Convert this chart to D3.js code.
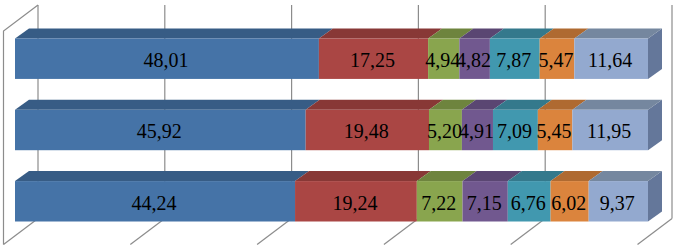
<!DOCTYPE html>
<html>
<head>
<meta charset="utf-8">
<script src="https://d3js.org/d3.v7.min.js"></script>
<style>
  html, body { margin: 0; padding: 0; background: #fff; }
  svg { display: block; }
</style>
</head>
<body>
<script>
// data, top row first
const rows = ["a", "b", "c"];
const seriesKeys = ["s1", "s2", "s3", "s4", "s5", "s6", "s7"];
const s1 = [48.01, 45.92, 44.24];
const s2 = [17.25, 19.48, 19.24];
const s3 = [4.94, 5.20, 7.22];
const s4 = [4.82, 4.91, 7.15];
const s5 = [7.87, 7.09, 6.76];
const s6 = [5.47, 5.45, 6.02];
const s7 = [11.64, 11.95, 9.37];
const gridTicks = [0, 20, 40, 60, 80, 100];

const frontColors = ["#4573a7", "#aa4644", "#89a54e", "#71588f", "#4198af", "#db843d", "#93a9cf"];
const topColors = ["#375c85", "#883836", "#6e843e", "#5a4672", "#34798c", "#af6a31", "#75879f"];
const sideColor = "#64779a";
const gridColor = "#8c8c8c";

const width = 678, height = 249;

// table for d3.stack
const table = rows.map((r, i) => ({
    row: r, s1: s1[i], s2: s2[i], s3: s3[i], s4: s4[i], s5: s5[i], s6: s6[i], s7: s7[i]
}));
const stacked = d3.stack().keys(seriesKeys)(table);

// scales
const x = d3.scaleLinear().domain([0, 100]).range([15, 648]);
const y = d3.scaleBand().domain(rows).range([38.5, 221.5]).paddingInner(0.433).paddingOuter(0);
const grid = d3.scaleLinear().domain([0, 100]).range([3.5, 637.5]);

// 3d offsets
const barDx = 14, barDy = 10;
const wallDx = 34.5, wallDy = 26;
const floorY = 244.5, wallTop = 31;

const svg = d3.select("body").append("svg")
    .attr("width", width)
    .attr("height", height);

// walls and grid
const g = svg.append("g")
    .attr("fill", "none")
    .attr("stroke", gridColor)
    .attr("stroke-width", 1.2);

g.selectAll(".back").data(gridTicks).enter().append("line")
    .attr("x1", d => grid(d) + wallDx).attr("x2", d => grid(d) + wallDx)
    .attr("y1", wallTop - wallDy).attr("y2", floorY - wallDy);

g.selectAll(".floor").data(gridTicks).enter().append("line")
    .attr("x1", d => grid(d)).attr("x2", d => grid(d) + wallDx)
    .attr("y1", floorY).attr("y2", floorY - wallDy);

g.append("path")
    .attr("d", d3.line()([
        [grid(0), floorY],
        [grid(0), wallTop],
        [grid(0) + wallDx, wallTop - wallDy]
    ]));

// bars
const layers = svg.selectAll(".layer").data(stacked).enter().append("g")
    .attr("class", "layer");

// side face of the last segment
layers.filter((d, i) => i === seriesKeys.length - 1)
    .selectAll(".side").data(d => d).enter().append("path")
    .attr("fill", sideColor)
    .attr("d", d => {
        const x1 = x(d[1]), y0 = y(d.data.row), h = y.bandwidth();
        return d3.line()([
            [x1, y0],
            [x1 + barDx, y0 - barDy],
            [x1 + barDx, y0 + h - barDy],
            [x1, y0 + h]
        ]) + "Z";
    });

// top faces
layers.selectAll(".top").data(d => d).enter().append("path")
    .attr("fill", function () { return topColors[stacked.indexOf(d3.select(this.parentNode).datum())]; })
    .attr("d", d => {
        const x0 = x(d[0]), x1 = x(d[1]), y0 = y(d.data.row);
        return d3.line()([
            [x0, y0],
            [x0 + barDx, y0 - barDy],
            [x1 + barDx, y0 - barDy],
            [x1, y0]
        ]) + "Z";
    });

// front faces
layers.selectAll(".front").data(d => d).enter().append("rect")
    .attr("fill", function () { return frontColors[stacked.indexOf(d3.select(this.parentNode).datum())]; })
    .attr("x", d => x(d[0]))
    .attr("y", d => y(d.data.row))
    .attr("width", d => x(d[1]) - x(d[0]))
    .attr("height", y.bandwidth());

// labels on top of everything, they overlap on the narrow segments
const labels = svg.append("g")
    .attr("font-family", "'Liberation Serif', 'Times New Roman', serif")
    .attr("font-size", 20)
    .attr("fill", "#000")
    .attr("text-anchor", "middle");

stacked.forEach(layer => {
    labels.selectAll(".l-" + layer.key).data(layer).enter().append("text")
        .attr("x", d => (x(d[0]) + x(d[1])) / 2 - 1)
        .attr("y", d => y(d.data.row) + y.bandwidth() / 2)
        .attr("dy", "0.42em")
        .text(d => (d[1] - d[0]).toFixed(2).replace(".", ","));
});
</script>
</body>
</html>
